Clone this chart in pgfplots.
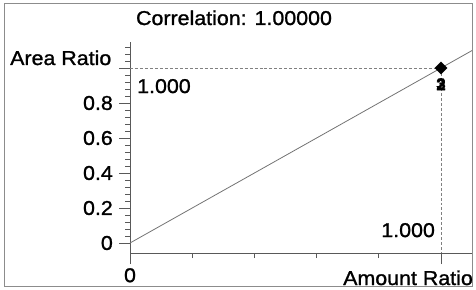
\documentclass[border=0pt]{standalone}
\usepackage{pgfplots}
\pgfplotsset{compat=1.18}
\usepackage{fontspec}
\setmainfont{Liberation Sans}[FakeStretch=1.07, FakeBold=1.2]
\begin{document}
\fontsize{20bp}{24bp}\selectfont
\begin{tikzpicture}
\path[use as bounding box] (0,0) rectangle (476bp,290bp);
\draw[black!45, line width=1bp] (4bp,3bp) rectangle (472bp,286bp);
\begin{axis}[
  at={(130bp,37bp)}, anchor=south west,
  scale only axis, width=342bp, height=211bp,
  xmin=0, xmax=1.0997, ymin=-0.0571, ymax=1.1486,
  axis x line=bottom, axis y line=left,
  axis line style={-, black!65, line width=0.9bp},
  xtick={0,1}, xticklabels={0,{}},
  minor xtick={0.2,0.4,0.6,0.8},
  ytick={0,0.2,0.4,0.6,0.8,1}, yticklabels={0,0.2,0.4,0.6,0.8,{}},
  minor ytick={0.04,0.08,0.12,0.16,0.24,0.28,0.32,0.36,0.44,0.48,0.52,0.56,0.64,0.68,0.72,0.76,0.84,0.88,0.92,0.96,1.04,1.08,1.12},
  tick align=outside,
  major tick length=11bp, minor tick length=5bp,
  every tick/.style={black!65, line width=0.9bp},
  tick label style={font=\fontsize{20bp}{24bp}\selectfont, inner sep=0pt},
  yticklabel style={anchor=east, xshift=-6bp},
  xticklabel style={anchor=north, yshift=-4bp},
  clip=false,
]
\addplot[black!55, line width=0.8bp] coordinates {(0,0) (1.0997,1.0997)};
\addplot[black!50, densely dashed, line width=0.7bp] coordinates {(0,1) (1,1)};
\addplot[black!50, densely dashed, line width=0.7bp] coordinates {(1,1) (1,-0.0571)};
\addplot[only marks, mark=square*, mark size=4.3bp, mark options={rotate=45, fill=black}, black] coordinates {(1,1)};
\node[font=\fontsize{16bp}{18bp}\selectfont\bfseries, inner sep=0pt] at (axis cs:1,0.905) {2};
\node[font=\fontsize{16bp}{18bp}\selectfont\bfseries, inner sep=0pt] at (axis cs:1,0.91) {3};
\node[anchor=base west, inner sep=0pt] at (axis cs:0.0225,0.857) {1.000};
\node[anchor=base east, inner sep=0pt] at (axis cs:0.981,0.034) {1.000};
\end{axis}
\node[anchor=base, inner sep=0pt] at (234bp,265bp) {Correlation: 1.00000};
\node[anchor=base west, inner sep=0pt] at (10bp,225bp) {Area Ratio};
\begin{scope}
\clip (0,0) rectangle (472bp,290bp);
\node[anchor=base west, inner sep=0pt] at (343bp,5bp) {Amount Ratio};
\end{scope}
\end{tikzpicture}
\end{document}
